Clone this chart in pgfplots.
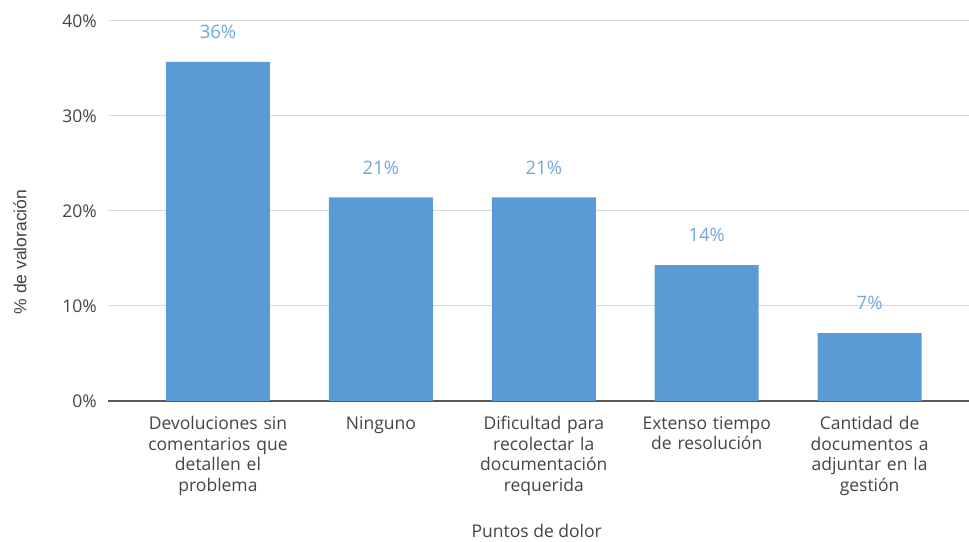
\documentclass[border=0pt]{standalone}
\usepackage{pgfplots}
\pgfplotsset{compat=1.18}
\usepackage{fontspec}
\setmainfont{Open Sans}
\newfontfamily\labfont{Liberation Sans}
\definecolor{barblue}{HTML}{5B9BD5}
\definecolor{lblblue}{HTML}{6FA8DC}
\definecolor{txtgray}{HTML}{444444}
\definecolor{gridgray}{HTML}{D9D9D9}
\begin{document}
\begin{tikzpicture}
\begin{axis}[
  scale only axis,
  width=861pt, height=380pt,
  xmin=-0.675, xmax=4.61,
  ymin=0, ymax=40,
  axis x line*=bottom,
  axis y line*=left,
  x axis line style={draw=black!65, line width=1.3pt},
  y axis line style={draw=none},
  ytick={0,10,20,30,40},
  yticklabels={0\%,10\%,20\%,30\%,40\%},
  ymajorgrids,
  grid style={gridgray, line width=1pt},
  major tick length=0pt,
  xtick={0,1,2,3,4},
  xticklabels={{Devoluciones sin\\comentarios que\\detallen el\\problema},
               {Ninguno},
               {Dificultad para\\recolectar la\\documentación\\requerida},
               {Extenso tiempo\\de resolución},
               {Cantidad de\\documentos a\\adjuntar en la\\gestión}},
  xticklabel style={align=center, text width=150pt, inner sep=0pt, yshift=-15pt,
     font=\fontsize{17.5}{20.6}\selectfont, text=txtgray},
  yticklabel style={anchor=east, inner sep=0pt, xshift=-11pt,
     font=\fontsize{17.5}{20.6}\selectfont, text=txtgray},
  /pgf/number format/assume math mode=true,
  ylabel={\% de valoración},
  ylabel style={at={(axis description cs:-0.1022,0.392)}, anchor=center,
     font=\labfont\fontsize{17.5}{20}\selectfont, text=txtgray},
  xlabel={Puntos de dolor},
  xlabel style={at={(axis description cs:0.498,-0.343)}, anchor=center,
     font=\fontsize{17.5}{20}\selectfont, text=txtgray},
  nodes near coords,
  point meta=explicit symbolic,
  every node near coord/.append style={anchor=south, inner sep=0pt, yshift=23pt,
     font=\fontsize{18.5}{20}\selectfont, text=lblblue},
  clip=false,
]
\addplot[ybar, bar width=104pt, fill=barblue, draw=none] coordinates {
  (0,35.71) [36\%]
  (1,21.43) [21\%]
  (2,21.43) [21\%]
  (3,14.29) [14\%]
  (4,7.14) [7\%]
};
\coordinate (bl) at (rel axis cs:-0.12544,-0.37105);
\coordinate (tr) at (rel axis cs:1,1.05526);
\end{axis}
\pgfresetboundingbox
\useasboundingbox (bl) rectangle (tr);
\end{tikzpicture}
\end{document}
